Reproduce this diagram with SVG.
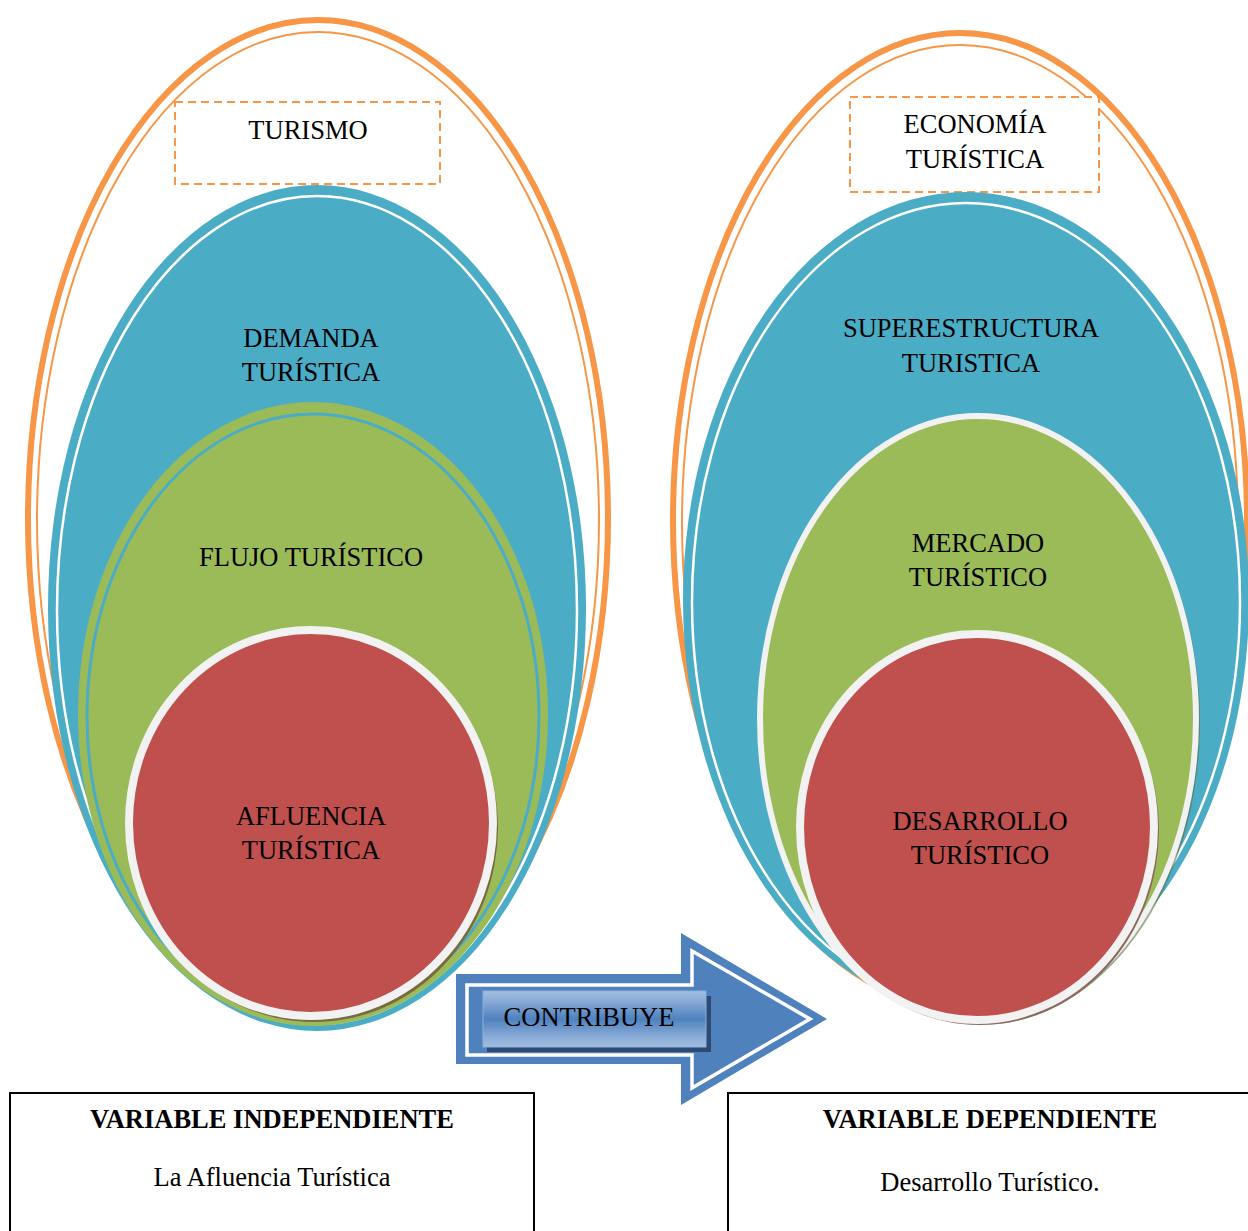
<svg xmlns="http://www.w3.org/2000/svg" width="1248" height="1231" viewBox="0 0 1248 1231">
<defs>
<style>
.t{font-family:"Liberation Serif","Times New Roman",serif;font-size:26.5px;fill:#000;text-anchor:middle}
.b{font-weight:bold}
.orT{fill:#fff;stroke:#f79646;stroke-width:6}
.orI{fill:none;stroke:#f79646;stroke-width:2}
.dash{fill:#fff;stroke:#f79646;stroke-width:2;stroke-dasharray:8 5}
.blue{fill:#4bacc6}
.wl{fill:none;stroke:#fff;stroke-width:2.5}
.green{fill:#9bbb59}
.red{fill:#c0504d;stroke:#f2f2f2;stroke-width:8}
.shd{fill:#7a6a3e}
.box{fill:#fff;stroke:#000;stroke-width:2}
</style>
<linearGradient id="btn" x1="0" y1="0" x2="0" y2="1">
<stop offset="0" stop-color="#a3bfe2"/>
<stop offset="0.2" stop-color="#86a9d6"/>
<stop offset="0.5" stop-color="#4f81bd"/>
<stop offset="0.8" stop-color="#86a9d6"/>
<stop offset="1" stop-color="#a3bfe2"/>
</linearGradient>
</defs>
<rect width="1248" height="1231" fill="#fff"/>

<g id="turismo">
<ellipse class="orT" cx="318" cy="518" rx="290" ry="498"/>
<ellipse class="orI" cx="318" cy="520" rx="281" ry="488"/>
<rect class="dash" x="175" y="102" width="265" height="82"/>
<text class="t" x="308" y="139">TURISMO</text>
</g>

<g id="demanda">
<ellipse class="blue" cx="317" cy="608" rx="269" ry="423"/>
<ellipse class="wl" cx="317" cy="610" rx="260" ry="414"/>
<text class="t" x="311" y="347">DEMANDA</text>
<text class="t" x="311" y="381">TURÍSTICA</text>
</g>

<g id="flujo">
<ellipse class="green" cx="313" cy="714" rx="235" ry="312"/>
<ellipse fill="none" stroke="#4bacc6" stroke-width="3" cx="313" cy="716" rx="226" ry="302"/>
<text class="t" x="311" y="566">FLUJO TURÍSTICO</text>
</g>

<g id="afluencia">
<ellipse class="shd" cx="314" cy="827" rx="184" ry="195"/>
<ellipse class="red" cx="311" cy="823" rx="182" ry="193"/>
<text class="t" x="311" y="825">AFLUENCIA</text>
<text class="t" x="311" y="859">TURÍSTICA</text>
</g>

<g id="economia">
<ellipse class="orT" cx="960" cy="520" rx="287" ry="487"/>
<ellipse class="orI" cx="960" cy="522" rx="278" ry="477"/>
<rect class="dash" x="850" y="97" width="249" height="95"/>
<text class="t" x="975" y="133">ECONOMÍA</text>
<text class="t" x="975" y="168">TURÍSTICA</text>
</g>

<g id="superestructura">
<ellipse class="blue" cx="966" cy="600" rx="283" ry="408"/>
<ellipse class="wl" cx="966" cy="602" rx="274" ry="399"/>
<text class="t" x="971" y="337">SUPERESTRUCTURA</text>
<text class="t" x="971" y="372">TURISTICA</text>
</g>

<g id="mercado">
<ellipse fill="#5d7040" opacity="0.6" cx="981" cy="722" rx="219" ry="303"/>
<ellipse class="green" stroke="#f2f2f2" stroke-width="6" cx="978" cy="719" rx="218" ry="303"/>
<text class="t" x="978" y="552">MERCADO</text>
<text class="t" x="978" y="586">TURÍSTICO</text>
</g>

<g id="desarrollo">
<ellipse fill="#8a6a5e" cx="980" cy="830" rx="179" ry="195"/>
<ellipse class="red" cx="977" cy="827" rx="177" ry="193"/>
<text class="t" x="980" y="830">DESARROLLO</text>
<text class="t" x="980" y="864">TURÍSTICO</text>
</g>

<g id="connectors">
<polygon fill="#4f81bd" points="456,974 681,974 681,933 827,1019 681,1105 681,1064 456,1064"/>
<polygon fill="#4f81bd" stroke="#fff" stroke-width="3.5" points="467,985 692,985 692,951 810,1019 692,1088 692,1055 467,1055"/>
<g id="contribuye">
<rect x="487" y="996" width="224" height="56" fill="#2c4a74"/>
<rect x="483" y="991" width="223" height="56" fill="url(#btn)" stroke="#8db0da" stroke-width="1"/>
<text class="t" x="589" y="1026">CONTRIBUYE</text>
</g>
</g>

<g id="var-independiente">
<rect class="box" x="10" y="1093" width="524" height="160"/>
<text class="t b" x="272" y="1128">VARIABLE INDEPENDIENTE</text>
<text class="t" x="272" y="1186">La Afluencia Turística</text>
</g>

<g id="var-dependiente">
<rect class="box" x="728" y="1093" width="540" height="160"/>
<text class="t b" x="990" y="1128">VARIABLE DEPENDIENTE</text>
<text class="t" x="990" y="1191">Desarrollo Turístico.</text>
</g>
</svg>
